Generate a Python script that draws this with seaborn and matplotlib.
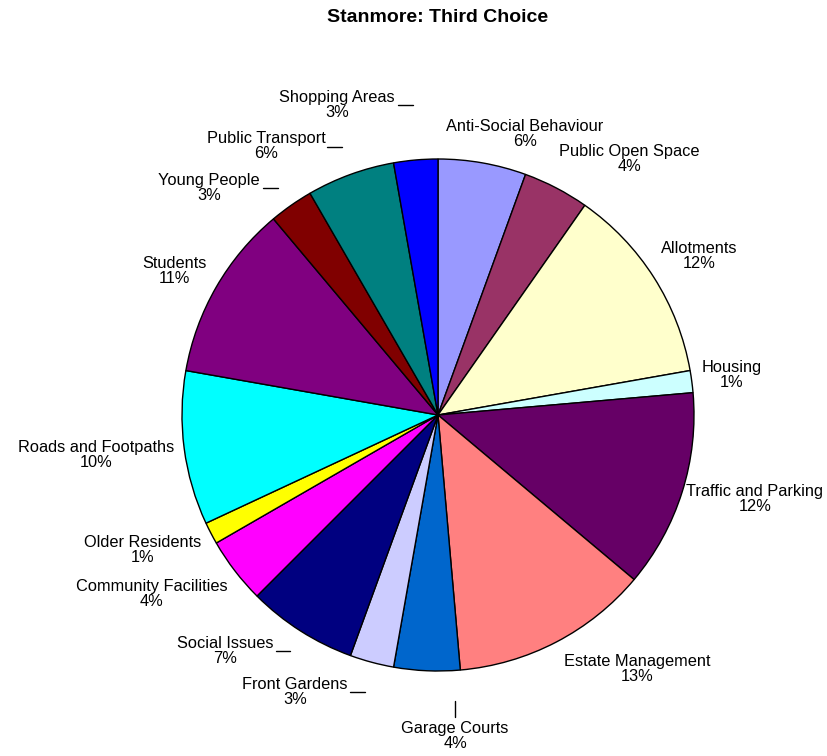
import numpy as np
import matplotlib
matplotlib.use("Agg")
import matplotlib.pyplot as plt
from matplotlib.lines import Line2D
import seaborn as sns

# Number of residents naming each topic as their third choice (clockwise from 12 o'clock)
topics = [
    "Anti-Social Behaviour", "Public Open Space", "Allotments", "Housing",
    "Traffic and Parking", "Estate Management", "Garage Courts", "Front Gardens",
    "Social Issues", "Community Facilities", "Older Residents", "Roads and Footpaths",
    "Students", "Young People", "Public Transport", "Shopping Areas",
]
responses = [4, 3, 9, 1, 9, 9, 3, 2, 5, 3, 1, 7, 8, 2, 4, 2]

slice_colors = [
    "#9999FF", "#993366", "#FFFFCC", "#CCFFFF",
    "#660066", "#FF8080", "#0066CC", "#CCCCFF",
    "#000080", "#FF00FF", "#FFFF00", "#00FFFF",
    "#800080", "#800000", "#008080", "#0000FF",
]

W, H = 827, 756
sns.set_theme(style="white")
plt.rcParams["font.family"] = ["Liberation Sans", "DejaVu Sans"]


def whole_percents(values):
    """Round shares to whole percents that still add up to 100 (largest remainder)."""
    vals = np.asarray(values, dtype=float)
    exact = 100.0 * vals / vals.sum()
    base = np.floor(exact).astype(int)
    frac = exact - base
    short = 100 - base.sum()
    order = sorted(range(len(vals)), key=lambda i: (round(frac[i], 9), i), reverse=True)
    for i in order[:short]:
        base[i] += 1
    return base


pcts = whole_percents(responses)

fig = plt.figure(figsize=(W / 100, H / 100), dpi=100)
cx, cy, r = 438, 415, 256
ax = fig.add_axes([(cx - r) / W, (H - cy - r) / H, 2 * r / W, 2 * r / H])
ax.pie(
    responses,
    colors=slice_colors,
    startangle=90,
    counterclock=False,
    radius=1.0,
    wedgeprops=dict(edgecolor="black", linewidth=1.0),
)
ax.set_xlim(-1, 1)
ax.set_ylim(-1, 1)
ax.set_aspect("equal")
ax.axis("off")

fig.text(cx / W, 1 - 18 / H, "Stanmore: Third Choice", ha="center", va="center",
         fontsize=14, fontweight="bold", color="black")

# Label block centres in pixels (x, y of the middle between the two lines)
label_xy = [
    (525, 134), (629, 159), (699, 256), (732, 375),
    (755, 499), (637, 669), (455, 736), (295, 692),
    (225, 651), (152, 594), (143, 550), (96, 455),
    (174, 271), (209, 188), (266, 146), (337, 105),
]
for name, p, (lx, ly) in zip(topics, pcts, label_xy):
    fig.text(lx / W, 1 - ly / H, f"{name}\n{p}%", ha="center", va="center",
             fontsize=11.75, linespacing=1.02, color="black")

# Short leader strokes next to the labels of the narrow top and bottom slices
leaders = [
    ((398, 105), (413, 105)),
    ((327, 147), (342, 147)),
    ((263, 188), (278, 188)),
    ((276, 651), (290, 651)),
    ((350, 692), (365, 692)),
    ((455, 701), (455, 717)),
]
for (x0, y0), (x1, y1) in leaders:
    fig.add_artist(Line2D([x0 / W, x1 / W], [1 - y0 / H, 1 - y1 / H],
                          transform=fig.transFigure, color="black", linewidth=1.0))

fig.savefig("out.png", dpi=100, facecolor="white")
